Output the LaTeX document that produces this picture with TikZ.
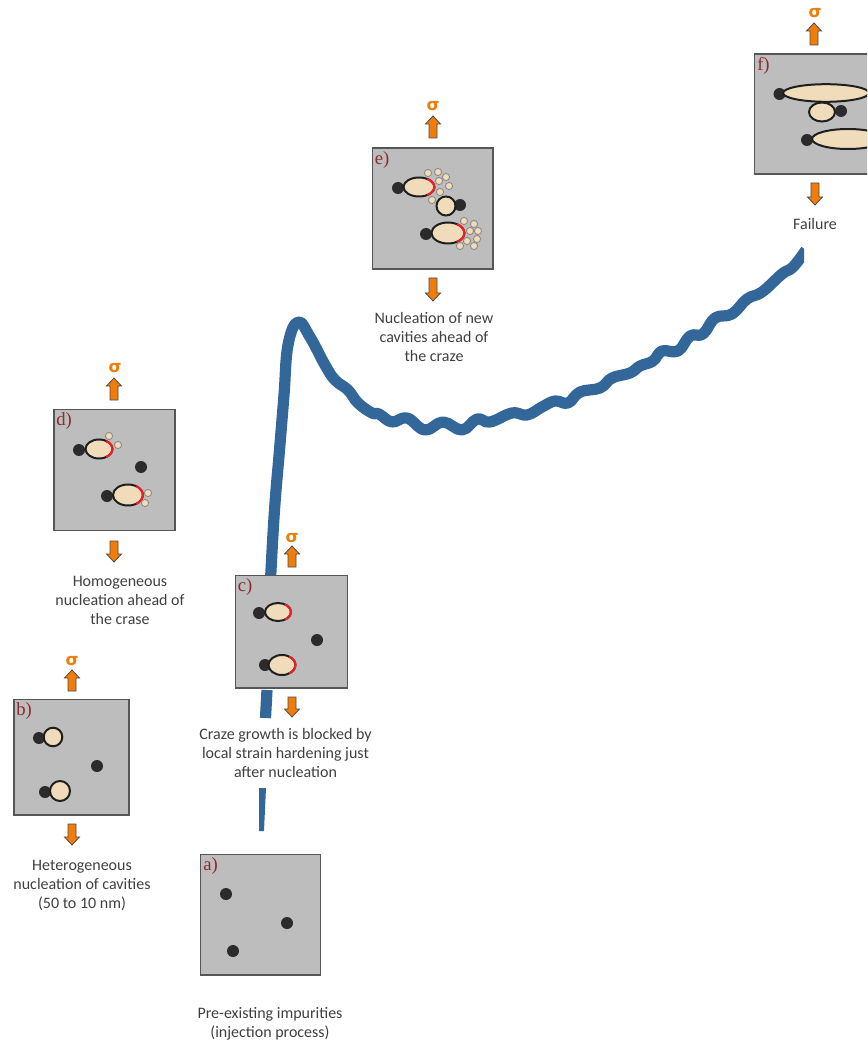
\documentclass[tikz,border=0pt]{standalone}
\usepackage{fontspec}
\setmainfont{Carlito}
\newfontfamily\panelfont{Liberation Serif}
\newfontfamily\sigfont{DejaVu Sans}
\usetikzlibrary{shapes.geometric}
\definecolor{panelgray}{HTML}{BDBDBD}
\definecolor{paneledge}{HTML}{565656}
\definecolor{cavity}{HTML}{F0DCBA}
\definecolor{inclusion}{HTML}{2B2B2B}
\definecolor{curveblue}{HTML}{336699}
\definecolor{arroworange}{HTML}{F07C0A}
\definecolor{labelred}{HTML}{8E2A30}
\definecolor{crackred}{HTML}{E8202A}
\definecolor{textgray}{HTML}{404040}
\tikzset{
  x=0.75pt,y=-0.75pt,
  panelbox/.style={fill=panelgray,draw=paneledge,line width=1.2pt},
  panellabel/.style={font=\panelfont\fontsize{14}{15}\selectfont,text=labelred,anchor=north west,inner sep=0pt},
  caption/.style={font=\fontsize{12}{14.25}\selectfont,text=textgray,align=center,inner sep=0pt},
  sigmalabel/.style={font=\sigfont\bfseries\fontsize{12.5}{13}\selectfont,text=arroworange,inner sep=0pt},
  stresscurve/.style={draw=curveblue,line width=8.4pt,line join=round,line cap=butt},
  inclusiondot/.style={fill=inclusion,draw=none},
  cavityshape/.style={fill=cavity,draw=black!88,line width=1.5pt},
  newcavity/.style={fill=cavity,draw=black!45,line width=0.7pt},
  crack/.style={draw=crackred,line width=1.6pt},
  blockarrow/.style={fill=arroworange,draw=black!70,line width=0.6pt,line join=miter},
}
% up arrow: centre x, tip y, base y
\newcommand{\uparr}[3]{\draw[blockarrow] (#1,#2) -- (#1+7.5,#2+8) -- (#1+4,#2+8) -- (#1+4,#3) -- (#1-4,#3) -- (#1-4,#2+8) -- (#1-7.5,#2+8) -- cycle;}
% down arrow: centre x, top y, tip y
\newcommand{\downarr}[3]{\draw[blockarrow] (#1,#3) -- (#1+7.5,#3-8) -- (#1+4,#3-8) -- (#1+4,#2) -- (#1-4,#2) -- (#1-4,#3-8) -- (#1-7.5,#3-8) -- cycle;}
\newcommand{\impurity}[2]{\fill[inclusiondot] (#1,#2) circle[x radius=6,y radius=6];}
\newcommand{\cav}[4]{\draw[cavityshape] (#1,#2) ellipse[x radius=#3,y radius=#4];}
% red tip on right side of a cavity: cx cy rx ry
\newcommand{\tip}[4]{\draw[crack] ([shift={(-58:#3 and #4)}]#1,#2) arc[start angle=-58,end angle=58,x radius=#3,y radius=#4];}
\newcommand{\newcav}[2]{\draw[newcavity] (#1,#2) circle[x radius=3.6,y radius=3.6];}
\begin{document}
\begin{tikzpicture}
\path[use as bounding box,fill=white] (0,0) rectangle (867,1044);
% stress-strain curve
\fill[curveblue] (259,788) -- (266,788) -- (264,831) -- (259,831) -- cycle;
\draw[stresscurve] plot[smooth,tension=0.5] coordinates {(265.5,718) (267,690)};
\begin{scope}
\clip (0,0) rectangle (804,1044);
\draw[stresscurve] plot[smooth,tension=0.7] coordinates {(270.5,580) (274.5,510) (279.5,450) (284,395) (288,345) (298,322) (310,337) (325,365) (335,380) (348,390) (358,403) (372,413) (379,414) (392,422) (407,418) (425,430) (443,422) (462,430) (477,419) (490,422) (512,413) (527,415) (542,407) (555,401) (568,403) (580,392) (600,388) (612,378) (630,373) (640,366) (653,361) (662,351) (678,351) (690,336) (703,334) (715,318) (732,314) (747,299) (762,292) (782,274) (793,267) (806,250)};
\end{scope}
% panel a
\draw[panelbox] (200.5,854.5) rectangle (320.5,975);
\node[panellabel] (la) at (203,857) {a)};
\impurity{226}{894}\impurity{287}{923}\impurity{233}{951}
\node[caption] (ca) at (270,1023.5) {Pre-existing impurities\\(injection process)};
% panel b
\draw[panelbox] (14,699.5) rectangle (129,815);
\node[panellabel] (lb) at (16,702) {b)};
\impurity{39}{738}\impurity{97}{766}\impurity{45}{792}
\cav{53}{737}{9.3}{9.3}\cav{60}{791}{10}{10}
\uparr{72}{670}{691}\downarr{72}{824}{845}
\node[sigmalabel] (sb) at (72,661) {σ};
\node[caption] (cb) at (82,885) {Heterogeneous\\nucleation of cavities\\(50 to 10 nm)};
% panel c
\draw[panelbox] (235.5,575.5) rectangle (347.5,688);
\node[panellabel] (lc) at (237.5,578) {c)};
\impurity{259}{613}\impurity{317}{640}\impurity{265}{665}
\cav{278}{612}{13}{9}\tip{278}{612}{13}{9}
\cav{282}{665}{13.5}{10}\tip{282}{665}{13.5}{10}
\uparr{292}{546}{567}\downarr{292}{697}{717}
\node[sigmalabel] (sc) at (292,538) {σ};
\node[caption] (cc) at (285.5,753) {Craze growth is blocked by\\local strain hardening just\\after nucleation};
% panel d
\draw[panelbox] (54,409.5) rectangle (175,530.5);
\node[panellabel] (ld) at (56,412) {d)};
\impurity{79}{450}\impurity{141}{467}\impurity{107}{496}
\cav{99}{449}{13.5}{9.5}\tip{99}{449}{13.5}{9.5}
\cav{128}{495}{15}{10.5}\tip{128}{495}{15}{10.5}
\newcav{109}{436}\newcav{118}{445}\newcav{148}{493}\newcav{145}{503}
\uparr{114}{378}{400}\downarr{114}{541}{562}
\node[sigmalabel] (sd) at (115,368) {σ};
\node[caption] (cd) at (120,600) {Homogeneous\\nucleation ahead of\\the crase};
% panel e
\draw[panelbox] (372.5,148) rectangle (493,269);
\node[panellabel] (le) at (374.5,151) {e)};
\impurity{398}{188}\impurity{460}{205}\impurity{426}{234}
\cav{419}{187}{15.5}{9.5}\tip{419}{187}{15.5}{9.5}
\cav{446}{206}{9.5}{9.5}
\cav{448}{233}{16.5}{10.5}\tip{448}{233}{16.5}{10.5}
\newcav{428}{173}\newcav{438}{172}\newcav{446}{177}\newcav{439}{181}\newcav{449}{186}\newcav{440}{192}\newcav{432}{200}
\newcav{464}{221}\newcav{474}{224}\newcav{470}{231}\newcav{478}{231}\newcav{477}{239}\newcav{467}{241}\newcav{474}{246}\newcav{460}{246}
\uparr{433}{116}{138}\downarr{433}{278}{301}
\node[sigmalabel] (se) at (433,106) {σ};
\node[caption] (ce) at (434,337) {Nucleation of new\\cavities ahead of\\the craze};
% panel f
\begin{scope}
\clip (0,0) rectangle (867,1044);
\draw[panelbox] (754.5,54) rectangle (880,174);
\node[panellabel] (lf) at (757,57) {f)};
\impurity{779.5}{94}\impurity{841}{111}\impurity{807}{140}
\cav{826}{93}{43}{8.8}
\cav{822}{112}{13}{9.5}
\cav{848}{139}{36}{10}
\end{scope}
\uparr{814}{23}{45}\downarr{815}{183}{205}
\node[sigmalabel] (sf) at (815,13) {σ};
\node[caption] (cf) at (815,224) {Failure};
\end{tikzpicture}
\end{document}
